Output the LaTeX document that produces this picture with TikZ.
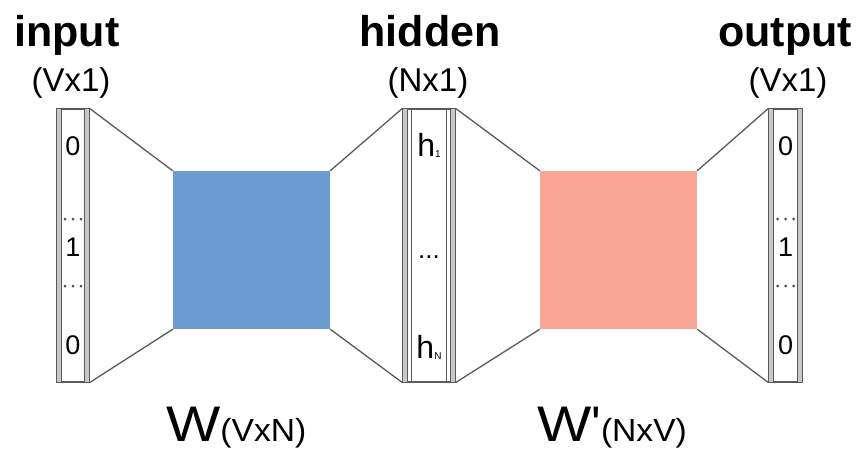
\documentclass[tikz,border=0pt]{standalone}
\usepackage{fontspec}
\setmainfont{Liberation Sans}
\newcommand{\fs}[1]{\fontsize{#1}{#1}\selectfont}
\definecolor{edge}{HTML}{5A5A5A}
\definecolor{stripe}{HTML}{C8C8C8}
\definecolor{wblue}{HTML}{6C9BD2}
\definecolor{wpink}{HTML}{F9A694}
\tikzset{
  vecbox/.style={draw=edge, line width=1.2pt, fill=white, inner sep=0pt, minimum height=273pt},
  matbox/.style={inner sep=0pt, minimum width=157pt, minimum height=158pt},
  funnel/.style={draw=edge, line width=1.3pt, line join=miter},
  title/.style={font=\bfseries\fs{43}, anchor=base},
  dims/.style={font=\fs{33}, anchor=base},
  cell/.style={font=\fs{27}, anchor=base},
  dot/.style={fill=black!70}
}
\begin{document}
\begin{tikzpicture}[x=1pt, y=-1pt]
\useasboundingbox (0,0) rectangle (859,452);
\fill[white] (0,0) rectangle (859,452);

% weight matrices
\node[matbox, fill=wblue] (w) at (251.5,250) {};
\node[matbox, fill=wpink] (wp) at (618.5,250) {};

% vectors
\node[vecbox, minimum width=32pt] (in) at (73,245.5) {};
\node[vecbox, minimum width=52pt] (hid) at (429,245.5) {};
\node[vecbox, minimum width=33pt] (out) at (785.5,245.5) {};

% funnels between the vectors and the matrices
\draw[funnel] (in.north east) -- (w.north west);
\draw[funnel] (in.south east) -- (w.south west);
\draw[funnel] (w.north east) -- (hid.north west);
\draw[funnel] (w.south east) -- (hid.south west);
\draw[funnel] (hid.north east) -- (wp.north west);
\draw[funnel] (hid.south east) -- (wp.south west);
\draw[funnel] (wp.north east) -- (out.north west);
\draw[funnel] (wp.south east) -- (out.south west);

% side stripes of each vector
\foreach \v in {in,hid,out}{
  \fill[stripe] (\v.north west) rectangle ([xshift=5pt]\v.south west);
  \fill[stripe] ([xshift=-5pt]\v.north east) rectangle (\v.south east);
  \draw[edge, line width=1.2pt] ([xshift=5pt]\v.north west) -- ([xshift=5pt]\v.south west);
  \draw[edge, line width=1.2pt] ([xshift=-5pt]\v.north east) -- ([xshift=-5pt]\v.south east);
  \draw[edge, line width=1.2pt] (\v.north west) rectangle (\v.south east);
}
\draw[edge, line width=1pt] ([xshift=9pt]hid.north west) -- ([xshift=9pt]hid.south west);
\draw[edge, line width=1pt] ([xshift=-9pt]hid.north east) -- ([xshift=-9pt]hid.south east);

% dotted separators inside the one-hot vectors
\foreach \v in {in,out}
  \foreach \yy in {219,286}
    \foreach \dx in {-8,0,8}
      \fill[dot] ([xshift=\dx pt]\v.center |- 0,\yy) circle (1.5pt);

% vector entries
\node[cell] (i0) at (73,155) {0};
\node[cell] (i1) at (73,256) {1};
\node[cell] (i2) at (73,354) {0};
\node[cell] (o0) at (785.5,155) {0};
\node[cell] (o1) at (785.5,256) {1};
\node[cell] (o2) at (785.5,354) {0};
\node[font=\fs{32}, anchor=base] (h1) at (429,156) {h\raisebox{-1pt}{\fs{10}1}};
\node[font=\fs{26}, anchor=base] (hd) at (429,258) {...};
\node[font=\fs{32}, anchor=base] (hn) at (429,358) {h\raisebox{-1pt}{\fs{10}N}};

% layer titles
\node[title] (tin) at (67,47) {input};
\node[dims] (din) at (71,91) {(Vx1)};
\node[title] (thid) at (430,47) {hidden};
\node[dims] (dhid) at (428,91) {(Nx1)};
\node[title] (tout) at (785,47) {output};
\node[dims] (dout) at (788,91) {(Vx1)};

% matrix labels
\node[anchor=base west, inner sep=0pt] (lw) at (166,441)
  {\scalebox{1.15}[1]{\fs{50}W}\scalebox{1.05}[1]{\fs{32}(VxN)}};
\node[anchor=base west, inner sep=0pt] (lwp) at (537,441)
  {\scalebox{1.15}[1]{\fs{50}W}{\fs{50}\textquotesingle}\scalebox{1.05}[1]{\fs{32}(NxV)}};
\end{tikzpicture}
\end{document}
